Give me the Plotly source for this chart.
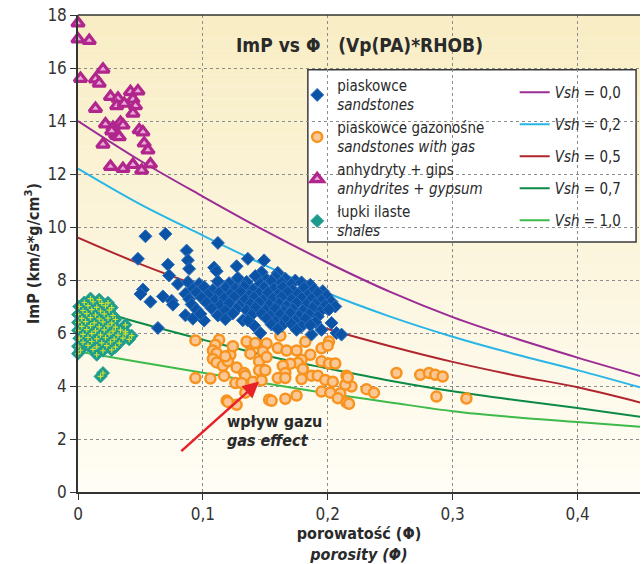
import plotly.graph_objects as go

FONT = "Liberation Sans Narrow, DejaVu Sans Condensed, Roboto Condensed, Arial Narrow, Liberation Sans, sans-serif"

# ---------------- data ----------------
x_tickvals = [0, 0.1, 0.2, 0.3, 0.4]
x_ticktext = ["0", "0,1", "0,2", "0,3", "0,4"]
y_tickvals = [0, 2, 4, 6, 8, 10, 12, 14, 16, 18]
y_ticktext = ["0", "2", "4", "6", "8", "10", "12", "14", "16", "18"]

# model curves Vsh
curve_phi = [0.0, 0.05, 0.1, 0.15, 0.2, 0.25, 0.3, 0.35, 0.4, 0.45]
vsh_labels = ["0,0", "0,2", "0,5", "0,7", "1,0"]
vsh_00 = [14.0, 12.5, 11.15, 9.85, 8.65, 7.55, 6.6, 5.8, 5.07, 4.38]
vsh_02 = [12.2, 10.85, 9.68, 8.55, 7.5, 6.62, 5.86, 5.2, 4.6, 3.95]
vsh_05 = [9.6, 8.6, 7.72, 6.9, 6.15, 5.5, 4.91, 4.4, 3.95, 3.38]
vsh_07 = [7.07, 6.38, 5.75, 5.15, 4.66, 4.2, 3.8, 3.47, 3.17, 2.84]
vsh_10 = [5.3, 4.9, 4.5, 4.1, 3.72, 3.38, 3.05, 2.82, 2.64, 2.46]

# gas effect arrow (tail -> head)
arrow_phi = [0.0815, 0.145]
arrow_imp = [1.49, 4.17]

# sandstones
sand_phi = [
    0.054, 0.070, 0.048, 0.087, 0.088, 0.089, 0.072, 0.073, 0.080, 0.052, 0.050, 0.058, 0.068,
    0.075, 0.076, 0.064, 0.086, 0.092, 0.101, 0.112, 0.109, 0.111, 0.127, 0.136, 0.149, 0.147,
    0.160, 0.128, 0.132, 0.141, 0.199, 0.203, 0.195, 0.207, 0.211, 0.187, 0.146,
    0.128, 0.142, 0.151, 0.158, 0.166, 0.174,
    0.088, 0.097, 0.112, 0.121, 0.135, 0.146, 0.155, 0.163, 0.171, 0.179, 0.186,
    0.092, 0.101, 0.108, 0.118, 0.126, 0.133, 0.140, 0.149, 0.157, 0.164, 0.172, 0.181, 0.189, 0.196,
    0.086, 0.095, 0.104, 0.113, 0.122, 0.130, 0.137, 0.145, 0.152, 0.160, 0.168, 0.176, 0.184, 0.192, 0.199,
    0.089, 0.099, 0.110, 0.117, 0.125, 0.134, 0.141, 0.148, 0.156, 0.163, 0.171, 0.179, 0.187, 0.195, 0.203,
    0.091, 0.103, 0.114, 0.121, 0.129, 0.138, 0.145, 0.153, 0.161, 0.167, 0.175, 0.183, 0.190, 0.198, 0.206,
    0.095, 0.107, 0.118, 0.127, 0.135, 0.142, 0.150, 0.158, 0.165, 0.172, 0.180, 0.188, 0.194, 0.201,
    0.098, 0.112, 0.124, 0.139, 0.147, 0.154, 0.162, 0.170, 0.177, 0.185, 0.192,
    0.118, 0.136, 0.151, 0.158, 0.166, 0.174, 0.182, 0.190,
    0.155, 0.163, 0.171, 0.179, 0.186,
    0.160, 0.175,
]
sand_imp = [
    9.65, 9.74, 8.80, 9.11, 8.75, 8.42, 8.58, 8.17, 7.85, 7.64, 7.47, 7.18, 7.38,
    7.22, 7.07, 6.19, 6.67, 6.54, 6.47, 9.40, 8.47, 8.33, 8.52, 8.80, 8.74, 8.29,
    8.27, 8.01, 6.48, 6.28, 6.94, 6.38, 6.12, 6.00, 5.94, 5.94, 6.00,
    8.08, 8.15, 8.02, 8.12, 8.05, 7.98,
    7.92, 7.85, 7.95, 7.88, 7.93, 7.86, 7.96, 7.90, 7.84, 7.91, 7.82,
    7.66, 7.74, 7.62, 7.71, 7.68, 7.75, 7.64, 7.72, 7.67, 7.73, 7.61, 7.70, 7.65, 7.58,
    7.48, 7.53, 7.44, 7.51, 7.46, 7.55, 7.42, 7.49, 7.52, 7.45, 7.54, 7.47, 7.43, 7.50, 7.41,
    7.28, 7.33, 7.25, 7.31, 7.36, 7.27, 7.34, 7.24, 7.30, 7.35, 7.26, 7.32, 7.29, 7.23, 7.18,
    7.08, 7.14, 7.05, 7.12, 7.03, 7.10, 7.15, 7.06, 7.11, 7.02, 7.13, 7.07, 7.09, 7.04, 7.00,
    6.88, 6.93, 6.84, 6.91, 6.86, 6.95, 6.87, 6.92, 6.83, 6.90, 6.85, 6.94, 6.81, 6.89,
    6.72, 6.66, 6.74, 6.68, 6.73, 6.64, 6.70, 6.75, 6.65, 6.71, 6.62,
    6.52, 6.47, 6.55, 6.44, 6.50, 6.46, 6.53, 6.41,
    6.32, 6.27, 6.34, 6.25, 6.30,
    6.16, 6.12,
]

# gas-bearing sandstones
gas_phi = [
    0.094, 0.113, 0.110, 0.108, 0.111, 0.122, 0.108, 0.111, 0.116, 0.120, 0.127, 0.133, 0.134,
    0.094, 0.106, 0.126, 0.131, 0.140, 0.147, 0.134, 0.119, 0.127, 0.153, 0.166, 0.175, 0.137,
    0.144, 0.151, 0.148, 0.138, 0.145, 0.151, 0.145, 0.150, 0.162, 0.160, 0.167, 0.175, 0.182,
    0.195, 0.201, 0.186, 0.179, 0.176, 0.170, 0.164, 0.166, 0.180, 0.160, 0.166, 0.179, 0.187,
    0.192, 0.198, 0.204, 0.195, 0.201, 0.206, 0.215, 0.219, 0.214, 0.195, 0.202, 0.210, 0.208,
    0.215, 0.231, 0.237, 0.200, 0.255, 0.274, 0.281, 0.286, 0.292, 0.287, 0.311, 0.120, 0.155,
    0.217, 0.124, 0.135, 0.142, 0.118, 0.216, 0.117,
]
gas_imp = [
    5.72, 5.75, 5.56, 5.34, 5.24, 5.18, 5.02, 4.89, 4.76, 4.93, 4.70, 4.49, 4.39,
    4.30, 4.28, 4.11, 4.11, 4.16, 4.21, 3.75, 3.45, 3.29, 3.48, 3.52, 3.64, 5.60,
    5.60, 5.60, 5.30, 5.22, 4.93, 5.09, 4.59, 4.59, 5.90, 5.43, 5.34, 5.34, 5.67,
    5.42, 5.68, 5.18, 4.99, 4.87, 4.84, 4.76, 4.49, 4.64, 4.30, 4.30, 4.26, 4.39,
    4.39, 4.23, 4.16, 4.93, 4.85, 4.85, 4.39, 3.98, 4.05, 3.79, 3.75, 3.73, 3.54,
    3.38, 3.88, 3.75, 5.53, 4.49, 4.42, 4.49, 4.42, 4.36, 3.60, 3.53, 3.40, 3.44,
    3.33, 5.50, 5.68, 5.62, 5.12, 4.32, 4.38,
]

# anhydrites + gypsum
anh_phi = [
    0.000, 0.000, 0.009, 0.020, 0.002, 0.014, 0.017, 0.014, 0.026, 0.032, 0.031, 0.037,
    0.042, 0.048, 0.044, 0.046, 0.044, 0.022, 0.028, 0.034, 0.036, 0.030, 0.031, 0.020,
    0.026, 0.036, 0.044, 0.051, 0.058, 0.049, 0.052, 0.053, 0.056, 0.027, 0.033,
]
anh_imp = [
    17.69, 17.09, 17.03, 15.95, 15.60, 15.58, 15.42, 14.47, 14.92, 14.85, 14.57, 14.66,
    15.10, 15.13, 14.82, 14.57, 14.29, 13.88, 13.75, 13.94, 13.84, 13.50, 13.45, 13.12,
    12.28, 12.20, 12.35, 12.14, 12.37, 13.66, 13.58, 13.16, 12.90, 13.62, 13.40,
]

# shales
shale_phi = [
    0.010, 0.017,
    0.005, 0.012, 0.019, 0.024,
    0.001, 0.008, 0.015, 0.022, 0.027,
    0.004, 0.011, 0.018, 0.025,
    0.000, 0.007, 0.014, 0.021, 0.028,
    0.003, 0.010, 0.017, 0.024, 0.030,
    0.000, 0.006, 0.013, 0.020, 0.027,
    0.003, 0.010, 0.017, 0.024, 0.030,
    0.000, 0.007, 0.014, 0.021, 0.028, 0.034, 0.038,
    0.004, 0.011, 0.018, 0.025, 0.032, 0.038, 0.043,
    0.001, 0.008, 0.015, 0.022, 0.029, 0.036, 0.041,
    0.004, 0.011, 0.019, 0.026, 0.033,
    0.000, 0.008, 0.015, 0.023, 0.030,
    0.002, 0.012, 0.020, 0.027,
    0.000, 0.015,
    0.038, 0.020, 0.018,
]
shale_imp = [
    7.30, 7.26,
    7.15, 7.18, 7.12, 7.14,
    7.00, 7.03, 6.97, 7.02, 6.96,
    6.85, 6.88, 6.83, 6.86,
    6.70, 6.73, 6.68, 6.72, 6.66,
    6.55, 6.58, 6.53, 6.56, 6.51,
    6.40, 6.43, 6.38, 6.42, 6.37,
    6.25, 6.28, 6.23, 6.26, 6.22,
    6.10, 6.13, 6.08, 6.12, 6.07, 6.11, 6.05,
    5.95, 5.98, 5.93, 5.96, 5.92, 5.97, 5.90,
    5.80, 5.83, 5.78, 5.82, 5.77, 5.81, 5.76,
    5.65, 5.68, 5.63, 5.66, 5.62,
    5.50, 5.53, 5.48, 5.52, 5.47,
    5.35, 5.38, 5.33, 5.36,
    5.22, 5.18,
    6.31, 4.49, 4.36,
]

# ---------------- figure ----------------
fig = go.Figure()

# background gradient of the plot area
top_rgb = (248, 237, 196)
bot_rgb = (255, 253, 245)
nb = 40
for i in range(nb):
    t = i / (nb - 1)
    c = tuple(round(bot_rgb[k] + (top_rgb[k] - bot_rgb[k]) * t) for k in range(3))
    fig.add_shape(type="rect", xref="x domain", yref="y domain",
                  x0=0, x1=1, y0=i / nb, y1=(i + 1) / nb,
                  fillcolor="rgb(%d,%d,%d)" % c, line_width=0, layer="below")

# legend box
fig.add_shape(type="rect", xref="paper", yref="paper",
              x0=0.409, x1=0.993, y0=0.524, y1=0.885,
              fillcolor="white", line=dict(color="#3a3a3a", width=1.5), layer="below")

curve_colors = ["#9b2c95", "#29b6e6", "#b0262e", "#0c8a45", "#3dba4a"]
curves = [vsh_00, vsh_02, vsh_05, vsh_07, vsh_10]
for lab, col, vals in zip(vsh_labels, curve_colors, curves):
    fig.add_trace(go.Scatter(
        x=curve_phi, y=vals, mode="lines", line=dict(color=col, width=2, shape="spline"),
        name="<i>Vsh</i> = " + lab, legend="legend2", legendgroup=lab, cliponaxis=True))

fig.add_trace(go.Scatter(
    x=shale_phi, y=shale_imp, mode="markers", name="łupki ilaste<br><i>shales</i>",
    marker=dict(symbol="diamond", size=10, color="#1c9a8c", line=dict(color="#2aa595", width=1)),
    cliponaxis=False, legendrank=4))
fig.add_trace(go.Scatter(
    x=shale_phi, y=shale_imp, mode="markers", showlegend=False, hoverinfo="skip",
    marker=dict(symbol="cross-thin", size=4, color="#cfe030", line=dict(color="#cfe030", width=1.2)),
    cliponaxis=False))

fig.add_trace(go.Scatter(
    x=anh_phi, y=anh_imp, mode="markers", name="anhydryty + gips<br><i>anhydrites + gypsum</i>",
    marker=dict(symbol="triangle-up", size=11, color="#eaa8d8", line=dict(color="#b0268c", width=3.2)),
    cliponaxis=False, legendrank=3))

fig.add_trace(go.Scatter(
    x=gas_phi, y=gas_imp, mode="markers", name="piaskowce gazonośne<br><i>sandstones with gas</i>",
    marker=dict(symbol="circle", size=10, color="#fbc895", line=dict(color="#f7931e", width=2.5)),
    cliponaxis=False, legendrank=2))

fig.add_trace(go.Scatter(
    x=sand_phi, y=sand_imp, mode="markers", name="piaskowce<br><i>sandstones</i>",
    marker=dict(symbol="diamond", size=10, color="#0b53a6", line=dict(color="#2f6fbc", width=1)),
    cliponaxis=False, legendrank=1))

grid = dict(showgrid=True, gridcolor="#8c8c8c", griddash="dot", gridwidth=1)

fig.update_layout(
    width=642, height=564,
    margin=dict(l=78, r=2, t=15, b=72),
    paper_bgcolor="white", plot_bgcolor="#fffdf4",
    font=dict(family=FONT, size=16, color="#2a2a2a"),
    xaxis=dict(range=[0, 0.45], tickvals=x_tickvals, ticktext=x_ticktext,
               showline=True, linecolor="#333", linewidth=1.5, ticks="outside",
               ticklen=6, tickcolor="#333", zeroline=False,
               tickfont=dict(size=17, color="#333"),
               title=dict(text="<b>porowatość (Φ)</b><br><b><i>porosity (Φ)</i></b>",
                          font=dict(size=16, color="#2a2a2a"), standoff=6),
               **grid),
    yaxis=dict(range=[0, 18], tickvals=y_tickvals, ticktext=y_ticktext,
               showline=True, linecolor="#333", linewidth=1.5, ticks="outside",
               ticklen=6, tickcolor="#333", zeroline=False,
               tickfont=dict(size=17, color="#333"),
               title=dict(text="<b>ImP (km/s*g/cm<sup>3</sup>)</b>",
                          font=dict(size=16, color="#2a2a2a"), standoff=4),
               **grid),
    legend=dict(x=0.39, y=0.887, xanchor="left", yanchor="top", bgcolor="rgba(0,0,0,0)",
                font=dict(size=15, color="#2a2a2a"), traceorder="normal"),
    legend2=dict(x=0.777, y=0.872, xanchor="left", yanchor="top", bgcolor="rgba(0,0,0,0)",
                 font=dict(size=15, color="#2a2a2a"), tracegroupgap=9.5, traceorder="grouped"),
    showlegend=True,
)

# top frame line
fig.add_shape(type="line", xref="paper", yref="paper", x0=0, x1=1, y0=1, y1=1,
              line=dict(color="#333", width=1.5))

fig.add_annotation(xref="paper", yref="paper", x=0.5, y=0.937, yanchor="middle", showarrow=False,
                   text="<b>ImP vs Φ   (Vp(PA)*RHOB)</b>", font=dict(size=19, color="#2a2a2a"))

# gas effect arrow
fig.add_annotation(x=arrow_phi[1], y=arrow_imp[1], ax=arrow_phi[0], ay=arrow_imp[0],
                   xref="x", yref="y", axref="x", ayref="y", text="",
                   showarrow=True, arrowhead=2, arrowsize=1.3, arrowwidth=2.5, arrowcolor="#e8202a")

fig.add_annotation(x=0.1176, y=2.65, xref="x", yref="y", xanchor="left", yanchor="middle",
                   showarrow=False, text="<b>wpływ gazu</b>", font=dict(size=16, color="#2a2a2a"))
fig.add_annotation(x=0.1176, y=1.93, xref="x", yref="y", xanchor="left", yanchor="middle",
                   showarrow=False, text="<b><i>gas effect</i></b>", font=dict(size=16, color="#2a2a2a"))

fig.write_html("out.html")
